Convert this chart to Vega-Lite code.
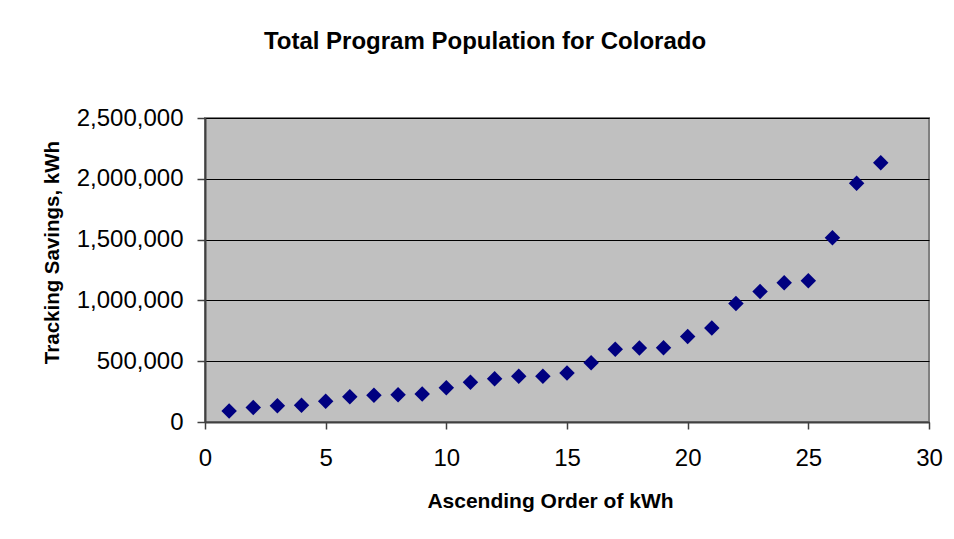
{
  "$schema": "https://vega.github.io/schema/vega-lite/v6.json",
  "width": 724,
  "height": 304,
  "autosize": {"type": "none"},
  "padding": {"left": 205, "top": 118, "right": 25, "bottom": 117},
  "background": "white",
  "title": {
    "text": "Total Program Population for Colorado",
    "font": "Liberation Sans",
    "fontSize": 24,
    "fontWeight": "bold",
    "color": "black",
    "anchor": "middle",
    "frame": "group",
    "dx": -82,
    "offset": 52
  },
  "data": {
    "values": [
      {"order": 1, "savings": 90000},
      {"order": 2, "savings": 120000},
      {"order": 3, "savings": 133000},
      {"order": 4, "savings": 137000},
      {"order": 5, "savings": 170000},
      {"order": 6, "savings": 207000},
      {"order": 7, "savings": 219000},
      {"order": 8, "savings": 225000},
      {"order": 9, "savings": 230000},
      {"order": 10, "savings": 282000},
      {"order": 11, "savings": 326000},
      {"order": 12, "savings": 356000},
      {"order": 13, "savings": 376000},
      {"order": 14, "savings": 376000},
      {"order": 15, "savings": 403000},
      {"order": 16, "savings": 488000},
      {"order": 17, "savings": 599000},
      {"order": 18, "savings": 608000},
      {"order": 19, "savings": 610000},
      {"order": 20, "savings": 703000},
      {"order": 21, "savings": 774000},
      {"order": 22, "savings": 974000},
      {"order": 23, "savings": 1073000},
      {"order": 24, "savings": 1145000},
      {"order": 25, "savings": 1161000},
      {"order": 26, "savings": 1516000},
      {"order": 27, "savings": 1963000},
      {"order": 28, "savings": 2131000}
    ]
  },
  "mark": {"type": "point", "shape": "diamond", "filled": true, "color": "#000080", "opacity": 1, "size": 240},
  "encoding": {
    "x": {
      "field": "order",
      "type": "quantitative",
      "scale": {"domain": [0, 30], "nice": false, "zero": false},
      "axis": {
        "title": "Ascending Order of kWh",
        "values": [0, 5, 10, 15, 20, 25, 30],
        "grid": false,
        "tickSize": 7,
        "labelPadding": 17,
        "labelFlush": false,
        "titleX": 345,
        "titleY": 85,
        "titleFontSize": 21,
        "titleBaseline": "alphabetic"
      }
    },
    "y": {
      "field": "savings",
      "type": "quantitative",
      "scale": {"domain": [0, 2500000], "nice": false},
      "axis": {
        "title": "Tracking Savings, kWh",
        "values": [0, 500000, 1000000, 1500000, 2000000, 2500000],
        "format": ",d",
        "grid": true,
        "gridColor": "black",
        "gridWidth": 1,
        "gridOpacity": 1,
        "tickSize": 8,
        "labelPadding": 14,
        "labelFlush": false,
        "titleX": -147,
        "titleY": 134,
        "titleFontSize": 20.5,
        "titleAngle": -90,
        "titleBaseline": "alphabetic",
        "titleAnchor": "middle"
      }
    }
  },
  "config": {
    "view": {"fill": "#C0C0C0", "stroke": "#808080", "strokeWidth": 2},
    "axis": {
      "labelFont": "Liberation Sans",
      "labelFontSize": 24,
      "labelColor": "black",
      "titleFont": "Liberation Sans",
      "titleFontSize": 20,
      "titleFontWeight": "bold",
      "titleColor": "black",
      "domainColor": "#404040",
      "domainWidth": 2,
      "tickColor": "#404040",
      "tickWidth": 1.5
    }
  }
}
